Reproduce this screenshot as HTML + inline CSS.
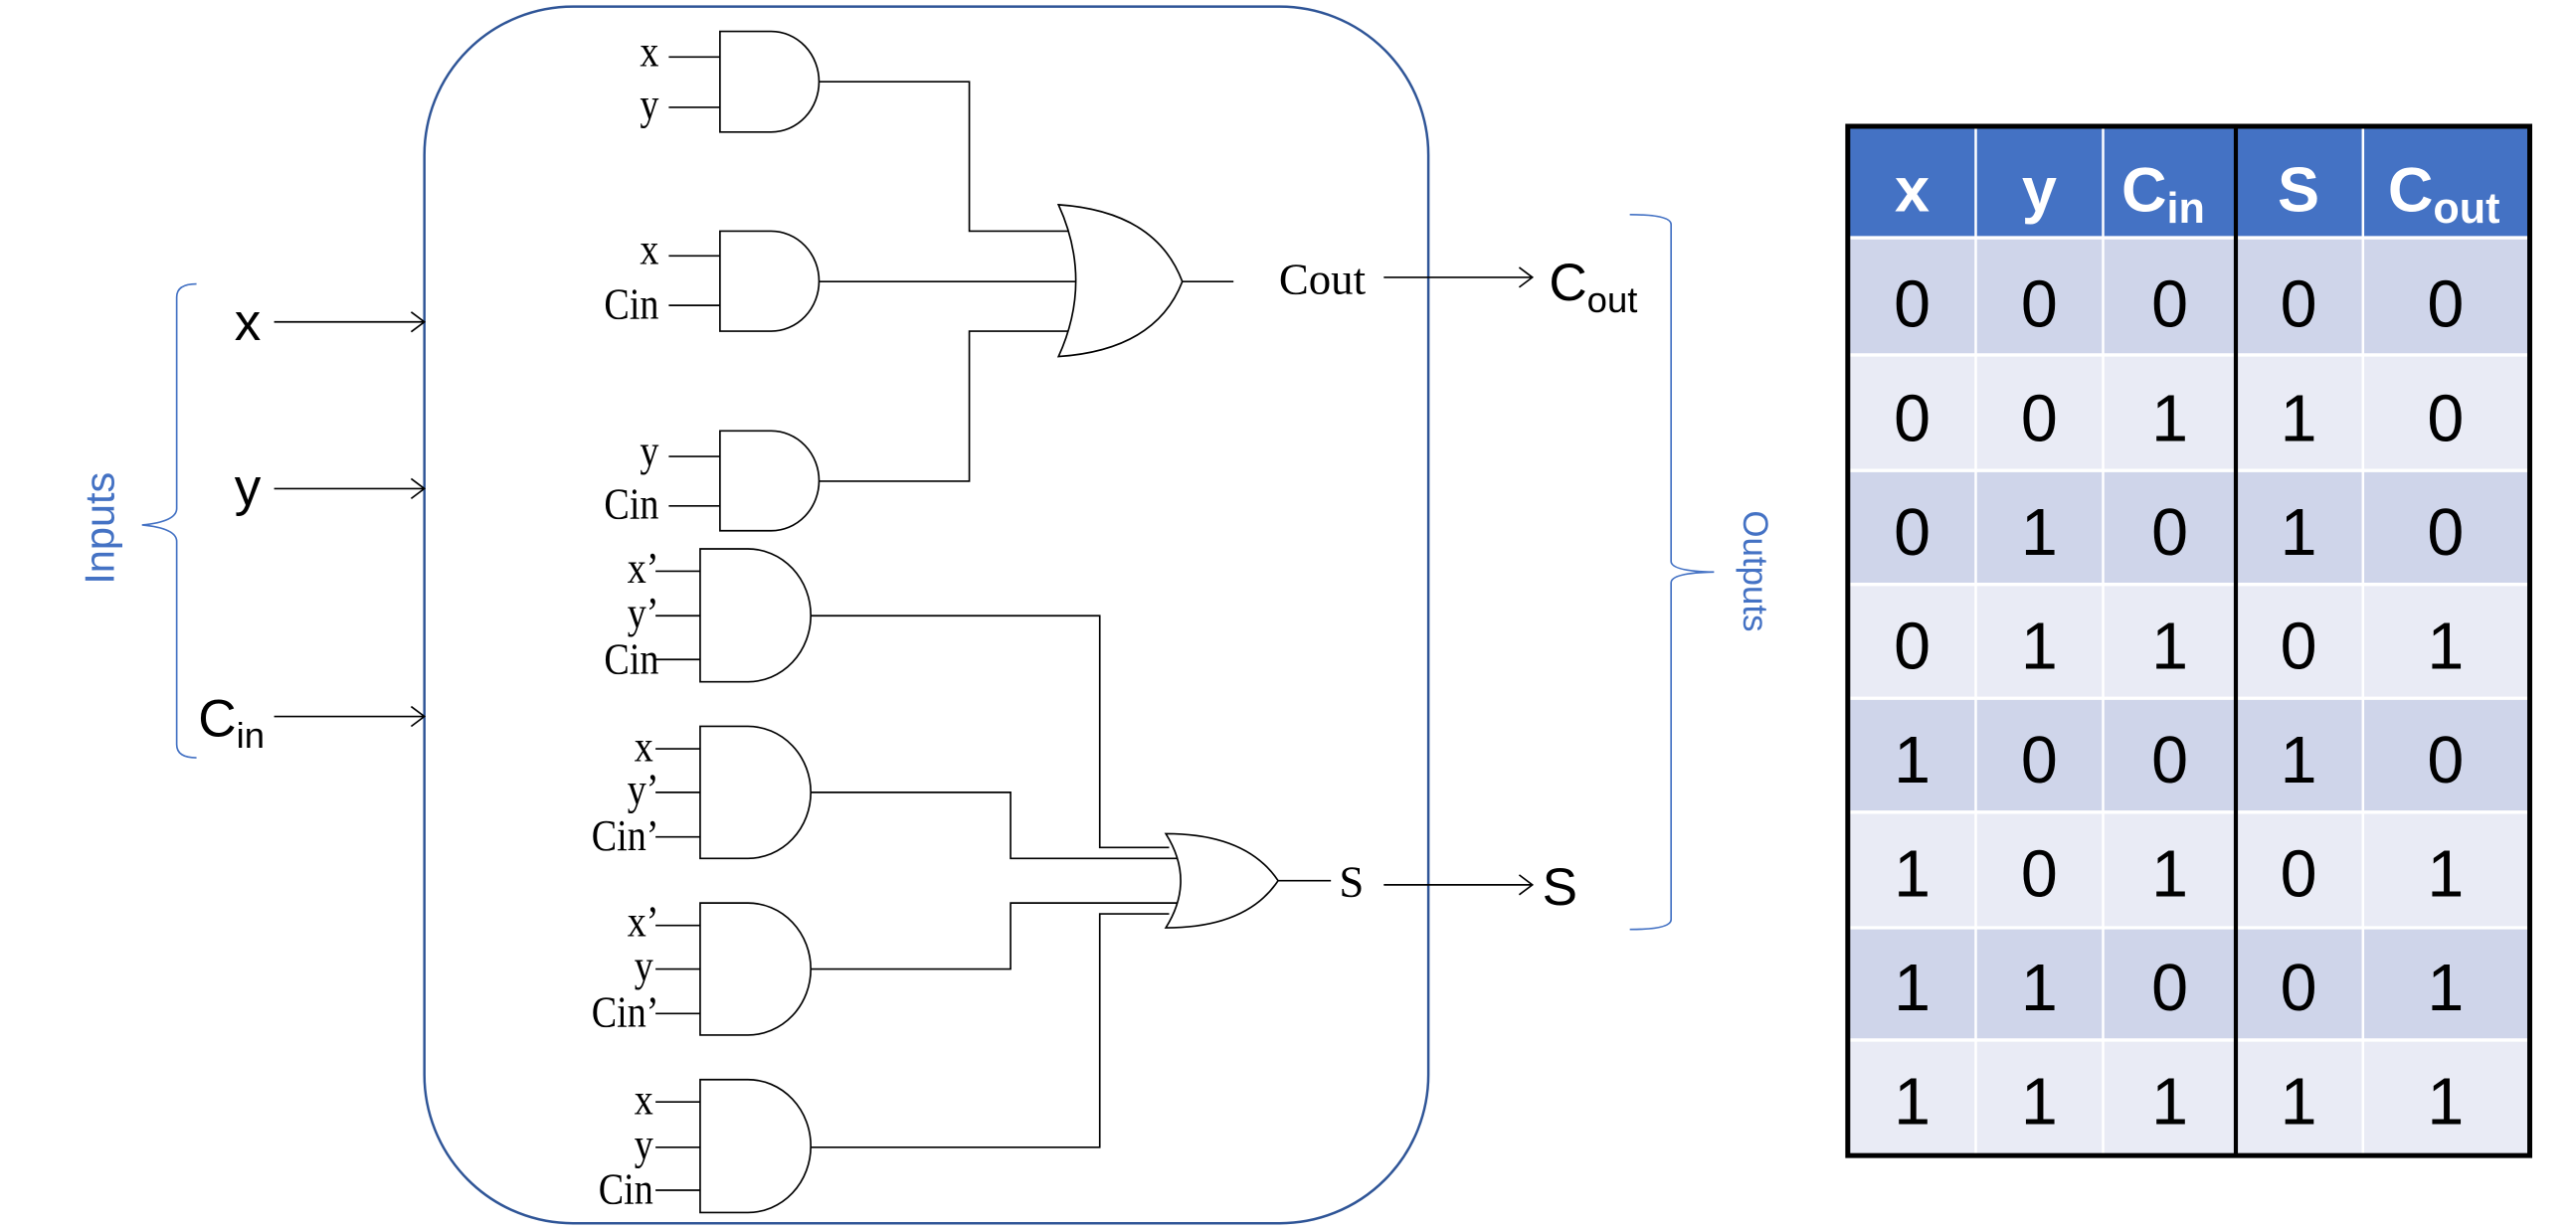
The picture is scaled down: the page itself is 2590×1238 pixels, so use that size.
<!DOCTYPE html>
<html><head><meta charset="utf-8"><style>html,body{margin:0;padding:0;background:#fff}svg{display:block}</style></head>
<body>
<svg width="2590" height="1238" viewBox="0 0 1560 745.7" preserveAspectRatio="none" xmlns="http://www.w3.org/2000/svg">
<rect x="257" y="4" width="608" height="737" rx="90" ry="90" fill="none" stroke="#2F5597" stroke-width="1.5"/>
<g fill="none" stroke="#4472C4" stroke-width="1">
<path d="M119,172 Q107,172 107,180 V308 Q107,316 86,318 Q107,320 107,328 V451 Q107,459 119,459"/>
<path d="M987,130 Q1012,130 1012,136 V340 Q1012,346 1038,346.5 Q1012,347 1012,353 V557 Q1012,563 987,563"/>
</g>
<text transform="translate(69,320) rotate(-90)" text-anchor="middle" font-family="Liberation Sans, sans-serif" font-size="25" fill="#4472C4">Inputs</text>
<text transform="translate(1056,346) rotate(90)" text-anchor="middle" font-family="Liberation Sans, sans-serif" font-size="21" fill="#4472C4">Outputs</text>
<g font-family="Liberation Sans, sans-serif" font-size="32" fill="#000">
<text x="142" y="206">x</text>
<text x="142" y="306">y</text>
<text x="120" y="446">C<tspan font-size="22" dy="7">in</tspan></text>
<text x="938" y="182">C<tspan font-size="22" dy="7">out</tspan></text>
<text x="934" y="548">S</text>
</g>
<g stroke="#000" stroke-width="1" fill="none">
<path d="M166,195 H257 M249,189 L257,195 L249,201"/>
<path d="M166,296 H257 M249,290 L257,296 L249,302"/>
<path d="M166,434 H257 M249,428 L257,434 L249,440"/>
<path d="M838,168 H928 M920,162 L928,168 L920,174"/>
<path d="M838,536 H928 M920,530 L928,536 L920,542"/>
</g>
<g stroke="#000" stroke-width="1" fill="#fff">
<path d="M436,19 H467 A29,30.5 0 0 1 467,80 H436 Z"/>
<path d="M436,140 H467 A29,30.3 0 0 1 467,200.6 H436 Z"/>
<path d="M436,261 H467 A29,30.25 0 0 1 467,321.5 H436 Z"/>
<path d="M424,332.5 H453 A38,40.25 0 0 1 453,413 H424 Z"/>
<path d="M424,440 H453 A38,40 0 0 1 453,520 H424 Z"/>
<path d="M424,547 H453 A38,40 0 0 1 453,627 H424 Z"/>
<path d="M424,654 H453 A38,40.25 0 0 1 453,734.5 H424 Z"/>
</g>
<g stroke="#000" stroke-width="1" fill="none">
<path d="M405,34.5 H436 M405,65 H436 M405,155 H436 M405,185 H436 M405,276.5 H436 M405,306.5 H436"/>
<path d="M397,346 H424 M397,373 H424 M397,399.5 H424 M397,453.6 H424 M397,480 H424 M397,507 H424 M397,560.6 H424 M397,587 H424 M397,614 H424 M397,667.5 H424 M397,695 H424 M397,721 H424"/>
<path d="M496,49.5 H587 V140 H649"/>
<path d="M496,170.6 H656"/>
<path d="M496,291.5 H587 V200.6 H649"/>
<path d="M491,373 H666 V513.4 H708"/>
<path d="M491,480 H612 V520 H718"/>
<path d="M491,587 H612 V547 H718"/>
<path d="M491,695 H666 V553.6 H708"/>
<path d="M716,170.6 H747"/>
<path d="M774,533.5 H806"/>
</g>
<g stroke="#000" stroke-width="1" fill="#fff">
<path d="M641,124 Q700,128 716,170.6 Q700,212 641,216 Q662,170 641,124 Z"/>
<path d="M706,505 Q755,505 774,533.5 Q755,562 706,562 Q724,533.5 706,505 Z"/>
</g>
<g font-family="Liberation Serif, serif" font-size="27" fill="#000" text-anchor="end">
<g transform="translate(399,0) scale(0.85,1)">
<text x="0" y="40">x</text><text x="0" y="72">y</text>
<text x="0" y="160">x</text><text x="0" y="193">Cin</text>
<text x="0" y="282">y</text><text x="0" y="314">Cin</text>
<text x="0" y="353">x’</text><text x="0" y="380">y’</text><text x="0" y="408">Cin</text>
<text x="-4" y="461">x</text><text x="0" y="487">y’</text><text x="0" y="515">Cin’</text>
<text x="0" y="567">x’</text><text x="-4" y="594">y</text><text x="0" y="622">Cin’</text>
<text x="-4" y="675">x</text><text x="-4" y="702">y</text><text x="-4" y="729">Cin</text>
</g>
<text x="827" y="178">Cout</text>
<text x="826" y="543">S</text>
</g>
<rect x="1119" y="76.5" width="413" height="67.5" fill="#4472C4"/>
<g>
<rect x="1119" y="144" width="413" height="71" fill="#CFD5EA"/>
<rect x="1119" y="215" width="413" height="70" fill="#E9EBF5"/>
<rect x="1119" y="285" width="413" height="69" fill="#CFD5EA"/>
<rect x="1119" y="354" width="413" height="69" fill="#E9EBF5"/>
<rect x="1119" y="423" width="413" height="69" fill="#CFD5EA"/>
<rect x="1119" y="492" width="413" height="70" fill="#E9EBF5"/>
<rect x="1119" y="562" width="413" height="68" fill="#CFD5EA"/>
<rect x="1119" y="630" width="413" height="70" fill="#E9EBF5"/>
</g>
<g stroke="#fff" stroke-width="1.5">
<path d="M1196.5,76 V700 M1273.6,76 V700 M1431,76 V700"/>
<path d="M1119,144 H1532 M1119,215 H1532 M1119,285 H1532 M1119,354 H1532 M1119,423 H1532 M1119,492 H1532 M1119,562 H1532 M1119,630 H1532" stroke-width="2"/>
</g>
<path d="M1354,76 V700" stroke="#000" stroke-width="2.5"/>
<rect x="1119" y="76.5" width="413" height="623.5" fill="none" stroke="#000" stroke-width="3"/>
<g font-family="Liberation Sans, sans-serif" font-weight="bold" font-size="38" fill="#fff" text-anchor="middle">
<text x="1158" y="128">x</text>
<text x="1235" y="128">y</text>
<text x="1310" y="128">C<tspan font-size="26" dy="7">in</tspan></text>
<text x="1392" y="128">S</text>
<text x="1480" y="128">C<tspan font-size="26" dy="7">out</tspan></text>
</g>
<g font-family="Liberation Sans, sans-serif" font-size="40" fill="#000" text-anchor="middle">
<text x="1158" y="198">0</text><text x="1235" y="198">0</text><text x="1314" y="198">0</text><text x="1392" y="198">0</text><text x="1481" y="198">0</text>
<text x="1158" y="267">0</text><text x="1235" y="267">0</text><text x="1314" y="267">1</text><text x="1392" y="267">1</text><text x="1481" y="267">0</text>
<text x="1158" y="336">0</text><text x="1235" y="336">1</text><text x="1314" y="336">0</text><text x="1392" y="336">1</text><text x="1481" y="336">0</text>
<text x="1158" y="405">0</text><text x="1235" y="405">1</text><text x="1314" y="405">1</text><text x="1392" y="405">0</text><text x="1481" y="405">1</text>
<text x="1158" y="474">1</text><text x="1235" y="474">0</text><text x="1314" y="474">0</text><text x="1392" y="474">1</text><text x="1481" y="474">0</text>
<text x="1158" y="543">1</text><text x="1235" y="543">0</text><text x="1314" y="543">1</text><text x="1392" y="543">0</text><text x="1481" y="543">1</text>
<text x="1158" y="612">1</text><text x="1235" y="612">1</text><text x="1314" y="612">0</text><text x="1392" y="612">0</text><text x="1481" y="612">1</text>
<text x="1158" y="681">1</text><text x="1235" y="681">1</text><text x="1314" y="681">1</text><text x="1392" y="681">1</text><text x="1481" y="681">1</text>
</g>
</svg>
</body></html>
